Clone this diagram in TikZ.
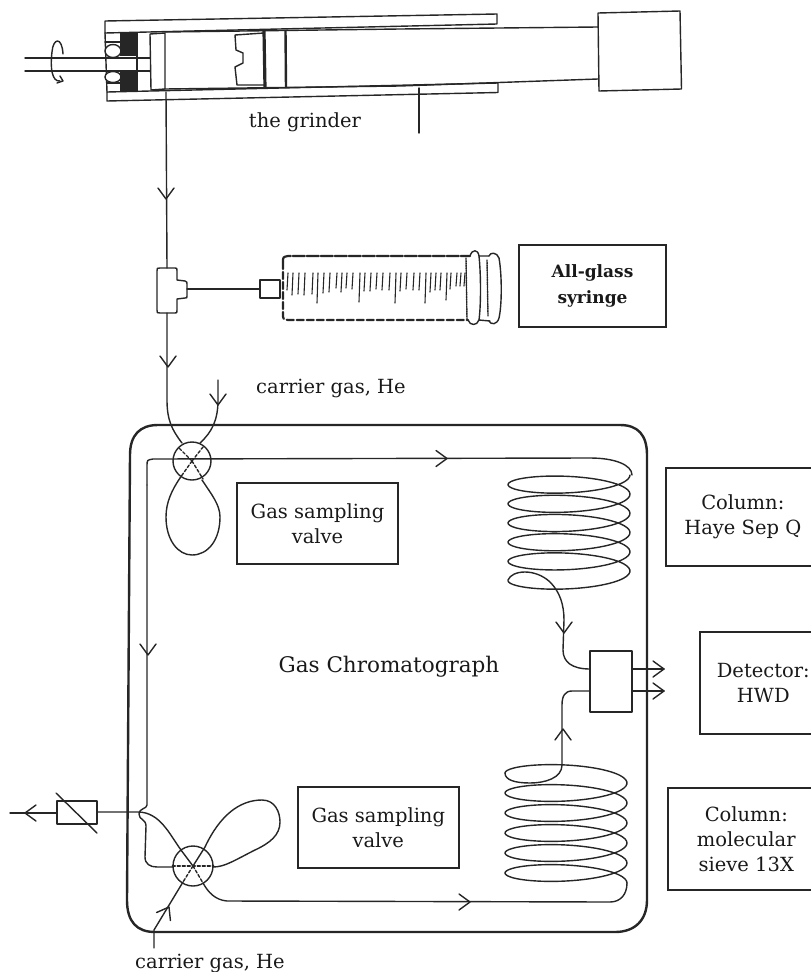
\documentclass[tikz,border=0pt]{standalone}
\usepackage{fontspec}
\setmainfont{DejaVu Serif}
\usetikzlibrary{calc}
\tikzset{
  ink/.style={draw=black!85,line width=1.4pt,line cap=round,line join=round},
  heavy/.style={draw=black!85,line width=2.2pt,line cap=round,line join=round},
  labelbox/.style={draw=black!85,line width=1.6pt,align=center,inner sep=0pt,font=\fontsize{19.5}{25}\selectfont,text=black!90},
  plain/.style={inner sep=0pt,align=center,text=black!90,font=\fontsize{19.5}{25}\selectfont}
}
\newcommand{\vtip}[3]{\begin{scope}[shift={(#1,#2)},rotate=#3]\draw[ink] (-11,-8)--(0,0)--(-11,8);\end{scope}}
\begin{document}
\begin{tikzpicture}[x=1pt,y=-1pt]
\useasboundingbox (0,0) rectangle (811,972);
% grinder barrel
\draw[ink] (497,24)--(497,14)--(105,21)--(105,33)--(497,24);
\draw[ink] (107,92)--(498,83)--(498,92.5)--(107,101)--(107,92);
\draw[ink] (105,33)--(107,92);
% piston rod and handle
\draw[ink] (165,32)--(400,29)--(598,27);
\draw[ink] (165,89)--(400,86)--(598,79);
\draw[ink] (598,13)--(680,11)--(681.5,89)--(599,91)--cycle;
% seal
\draw[ink] (150,34)--(165,33)--(165,89)--(151,90)--cycle;
\fill[black!85] (120,33) rectangle (137,56);
\fill[black!85] (120,71) rectangle (137,91);
\draw[ink] (105,42)--(120,42) (107,83)--(120,83);
\draw[ink,fill=white] (113,51) ellipse (8 and 6.5);
\draw[ink,fill=white] (113,77) ellipse (8 and 5.5);
\draw[ink] (137,33)--(137,91);
\draw[ink] (25,58)--(150,58) (25,71)--(150,71);
% rotor
\draw[ink] (264,33)--(235,35)--(236,50)--(243,53)--(243,63)--(235,67)--(237,85)--(264,85);
\draw[line width=3.2pt,black!85] (264,31)--(265,88);
\draw[line width=2.4pt,black!85] (285.5,30)--(286,88);
% rotation arrow
\draw[ink] (63,54) .. controls (62,36) and (53,38) .. (52,52) .. controls (50,68) and (52,82) .. (60,81);
\draw[ink] (60,76)--(63,81)--(57,83);
% grinder label
\node[plain] (grinder) at (305,122) {the grinder};
\coordinate (gpt) at (419,88);
\coordinate (gend) at (419,133);
\draw[ink] (gpt)--(gend);
% line to T
\coordinate (outlet) at (166,92);
\coordinate (tee) at (167,268);
\draw[ink] (outlet)--(tee);
\vtip{166}{199}{-90}
% T piece
\draw[ink] (160,268)--(175,268) .. controls (177,268) .. (177,271)--(177,280)--(185,281) .. controls (187,282) .. (187,284)--(187,296) .. controls (187,298) .. (185,298)--(177,299)--(177,310) .. controls (177,313) .. (175,313)--(160,313) .. controls (157,313) .. (157,310)--(157,271) .. controls (157,268) .. (160,268)--cycle;
\draw[ink] (187,289)--(260,289);
% syringe
\draw[ink] (260,280) rectangle (280,298);
\draw[heavy,dash pattern=on 12pt off 2pt] (283,262) .. controls (283,257) .. (288,256)--(470,256);
\draw[heavy,dash pattern=on 7pt off 3pt] (283,262)--(283,314) .. controls (283,319) .. (288,320)--(468,320);
\draw[ink] (470,256) .. controls (472,249) and (478,249) .. (479,256) .. controls (481,275) and (481,305) .. (479,320) .. controls (477,326) and (470,326) .. (468,320);
\draw[ink] (479,256)--(489,256) (479,320)--(490,321);
\draw[ink] (489,256) .. controls (490,252) and (497,252) .. (499,258) .. controls (502,275) and (502,305) .. (499,318) .. controls (497,325) and (491,325) .. (489,321);
\draw[ink,densely dotted] (466,258)--(467,320) (487,260)--(488,316);
\foreach \tx/\ty in {288/290,293/295,299/294,305/295,313/294,318/303,324/293,330/292,337/288,342/292,347/288,353/289,360/302,365/291,371/291,377/289,383/290,390/290,396/303,401/291,407/289,414/290,420/290,426/303,431/292,436/290,441/290,447/300,451/289,457/286,461/286,465/286}{
  \draw[ink,line width=1.1pt] (\tx,273)--(\tx-1,\ty);}
\node[labelbox,font=\fontsize{17}{26}\bfseries\selectfont,minimum width=147pt,minimum height=82pt] (syr) at (592.5,286) {All-glass\\syringe};
% incoming lines
\coordinate (v1in) at (182,443);
\coordinate (v1he) at (200,443);
\draw[ink] (tee |- 0,313)--(167,400) .. controls (167,420) and (172,430) .. (v1in);
\vtip{168}{367}{-90}
\draw[ink] (218,380)--(218,400) .. controls (218,420) and (212,432) .. (v1he);
\vtip{218}{405}{-90}
\node[plain] (he1) at (331,388) {carrier gas, He};
% chromatograph box
\draw[heavy,line width=2.4pt] (130,455) .. controls (130,435) and (140,425) .. (158,425)--(620,425) .. controls (638,425) and (647,435) .. (647,455)--(647,900) .. controls (647,920) and (635,932) .. (615,932)--(155,932) .. controls (137,932) and (127,922) .. (127,900)--cycle;
% valve 1
\node[draw=black!85,line width=1.4pt,circle,minimum size=38pt,inner sep=0pt] (v1) at (192,461) {};
\draw[ink,dash pattern=on 3pt off 2pt] (v1.center)--++(-13,-13) (v1.center)--++(11,-14) (v1.center)--++(-12,17) (v1.center)--++(11,18);
\draw[ink] (147,485)--(147,466) .. controls (147,460) .. (153,459)--(590,458) .. controls (615,458) and (632,465) .. (632,475);
\vtip{447}{458.5}{0}
\draw[ink] (180,478) .. controls (172,490) and (166,502) .. (166,517) .. controls (166,540) and (178,555) .. (192,555) .. controls (208,555) and (220,540) .. (220,517) .. controls (220,505) and (212,495) .. (202,480);
\node[labelbox,minimum width=161pt,minimum height=81pt] (gsv1) at (317.5,523.5) {Gas sampling\\valve};
% column 1
\draw[ink] plot[smooth,samples=260,domain=0:1980,variable=\t] ({569+61*cos(\t)},{475+\t/360*19.2+13*sin(\t)});
\draw[ink] (508,580) .. controls (512,570) and (535,568) .. (550,582) .. controls (560,592) and (564,605) .. (564,620)--(563,650) .. controls (563,662) and (572,669) .. (590,669);
\vtip{564}{633}{-90}
\node[labelbox,minimum width=154pt,minimum height=98pt,anchor=north west] (col1) at (665,467) {Column:\\Haye Sep Q};
% junction block
\draw[ink] (590,651) rectangle (632,712);
\draw[ink] (632,669)--(664,669) (632,691)--(664,691);
\vtip{664}{669}{0}
\vtip{664}{691}{0}
\node[labelbox,minimum width=127pt,minimum height=102pt,anchor=north west] (det) at (699,631) {Detector:\\HWD};
\node[plain,font=\fontsize{21.5}{25}\selectfont] (gc) at (389,667) {Gas Chromatograph};
% column 2
\draw[ink] (590,691)--(572,691) .. controls (565,691) and (562,696) .. (562,705)--(562,765) .. controls (562,778) and (545,783) .. (530,783) .. controls (515,783) and (505,780) .. (505,773);
\draw[ink] plot[smooth,samples=260,domain=180:2160,variable=\t] ({566+61*cos(\t)},{763+\t/360*20+13*sin(\t)});
\draw[ink] (627,883) .. controls (627,895) and (620,902) .. (610,902)--(227,901) .. controls (215,900) and (208,892) .. (203,883);
\vtip{470}{902}{0}
\vtip{563}{729}{90}
\node[labelbox,minimum width=157pt,minimum height=102pt,anchor=north west] (col2) at (667,787) {Column:\\molecular\\sieve 13X};
% valve 2
\node[draw=black!85,line width=1.4pt,circle,minimum size=40pt,inner sep=0pt] (v2) at (193,866) {};
\draw[ink] (147,485)--(147,805) .. controls (147,809) and (139,808) .. (139,814) .. controls (139,820) and (146,819) .. (146,826)--(145,857) .. controls (145,864) and (150,867) .. (157,867)--(173,867);
\vtip{148}{655}{-90}
\draw[ink,dash pattern=on 3pt off 2pt] (v2.west)--(v2.east);
\draw[ink] (97,812)--(138,812) .. controls (160,812) and (170,835) .. (181,850)--(193,866)--(205,847) .. controls (220,815) and (240,800) .. (262,800) .. controls (275,800) and (280,812) .. (280,822) .. controls (280,835) and (270,843) .. (255,850) .. controls (235,860) and (225,867) .. (213,867);
\draw[ink,dash pattern=on 3pt off 2pt] (193,866)--(183,882) (193,866)--(203,883);
% restrictor
\draw[ink] (57,801) rectangle (97,824);
\draw[ink] (56,793)--(97,833);
\draw[ink] (10,813)--(57,813);
\vtip{25}{813}{180}
\node[labelbox,minimum width=161pt,minimum height=81pt,anchor=north west] (gsv2) at (297,786) {Gas sampling\\valve};
% carrier 2
\coordinate (he2end) at (154,948);
\draw[ink] (he2end)--(154,930)--(183,882);
\begin{scope}[shift={(169,907)},rotate=60]\draw[ink] (-11,-8)--(0,0)--(-11,8);\end{scope}
\node[plain] (he2) at (210,963) {carrier gas, He};
\end{tikzpicture}
\end{document}
